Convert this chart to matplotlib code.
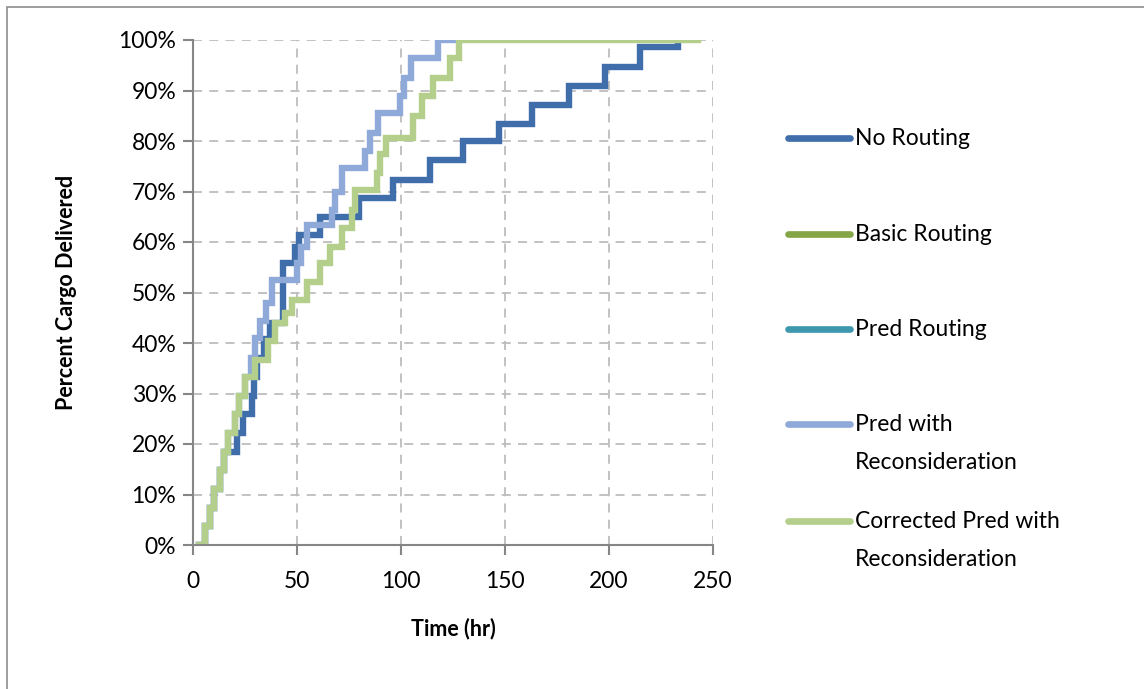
import numpy as np
import matplotlib.pyplot as plt
from matplotlib.lines import Line2D
from matplotlib.patches import Rectangle

plt.rcParams['font.family'] = ['Lato', 'DejaVu Sans']

# step data: time at which each level starts (hr), percent delivered
no_routing_t = [3, 6, 8, 10, 13, 15, 21, 24, 28.5, 29.5, 31, 34, 37, 43.5, 49, 51, 61,
                80, 96, 114, 130, 147, 163, 181, 198, 215, 233]
no_routing_v = [0, 3.7, 7.4, 11.1, 14.8, 18.4, 22.2, 25.9, 29.6, 33.3, 37.0, 40.7, 44.0,
                55.8, 59.0, 61.4, 65.0, 68.7, 72.3, 76.2, 80.0, 83.4, 87.1, 90.9, 94.7,
                98.6, 100]

basic_routing_t = []
basic_routing_v = []
pred_routing_t = []
pred_routing_v = []

pred_recon_t = [3, 6, 8, 10, 13, 15, 17, 20, 22, 25, 28, 30, 32, 35, 38, 50, 52, 55, 67,
                68.5, 71.6, 82.7, 85, 89, 99.5, 101.5, 105, 118, 126]
pred_recon_v = [0, 3.7, 7.4, 11.1, 14.8, 18.5, 22.2, 25.9, 29.6, 33.3, 37.0, 41.0, 44.4,
                48.0, 52.5, 55.8, 59.0, 63.4, 66.3, 70.0, 74.6, 78.0, 81.5, 85.5, 89.0,
                92.5, 96.4, 100, 100]

corrected_t = [3, 6, 8, 10, 13, 15, 17, 20, 22, 25, 30, 36, 39.5, 44, 47.6, 55, 61, 66,
               71.6, 76.4, 78, 88.5, 90, 93, 106, 110, 115.5, 123.5, 128, 243]
corrected_v = [0, 3.7, 7.4, 11.1, 14.8, 18.5, 22.2, 25.9, 29.6, 33.3, 36.6, 40.4, 44.0,
               46.0, 48.5, 52.0, 55.8, 59.0, 62.8, 66.3, 70.3, 73.7, 77.5, 80.6, 85.0,
               89.0, 92.5, 96.4, 100, 100]

series = [
    ("No Routing", no_routing_t, no_routing_v, "#3F6EAA"),
    ("Basic Routing", basic_routing_t, basic_routing_v, "#84A646"),
    ("Pred Routing", pred_routing_t, pred_routing_v, "#3D98AE"),
    ("Pred with\nReconsideration", pred_recon_t, pred_recon_v, "#8FAAD8"),
    ("Corrected Pred with\nReconsideration", corrected_t, corrected_v, "#B4CF8B"),
]

fig = plt.figure(figsize=(11.44, 6.89), dpi=100)
ax = fig.add_axes([193 / 1144, 1 - 545 / 689, 520 / 1144, 505 / 689])

for name, t, v, col in series:
    ax.plot(t, v, drawstyle="steps-post", color=col, lw=4.6, solid_joinstyle="miter")

ax.set_xlim(0, 250)
ax.set_ylim(0, 100)
ax.set_xticks(np.arange(0, 251, 50))
ax.set_yticks(np.arange(0, 101, 10))
ax.set_yticklabels([f"{v}%" for v in range(0, 101, 10)])
ax.grid(True, color="#BDBDBD", linestyle=(0, (5, 4)), linewidth=1.3)
ax.set_axisbelow(True)
for s in ["top", "right"]:
    ax.spines[s].set_visible(False)
for s in ["left", "bottom"]:
    ax.spines[s].set_color("#868686")
    ax.spines[s].set_linewidth(1.5)
ax.tick_params(axis="both", colors="#868686", length=7, width=1.5, labelsize=16.5,
               labelcolor="black")
ax.tick_params(axis="x", pad=12)
ax.tick_params(axis="y", pad=5)
ax.set_xlabel("Time (hr)", fontsize=15.5, fontweight="bold", labelpad=18)
ax.set_ylabel("Percent Cargo Delivered", fontsize=15.5, fontweight="bold", labelpad=30)

# legend laid out like the spreadsheet one (handle on first text line)
legend_y = [138, 234, 329, 424, 521]
for (name, t, v, col), yy in zip(series, legend_y):
    yf = 1 - yy / 689
    fig.add_artist(Line2D([788 / 1144, 850 / 1144], [yf, yf], color=col, lw=4.8,
                          solid_capstyle="round"))
    fig.text(855 / 1144, yf + 10 / 689, name, fontsize=16.5, va="top", ha="left",
             linespacing=2.0)

fig.add_artist(Rectangle((7 / 1144, -0.02), 1.1, 1 - 7 / 689 + 0.02, fill=False,
                         edgecolor="#8C8C8C", lw=1.2, transform=fig.transFigure))

fig.savefig("out.png", dpi=100)
